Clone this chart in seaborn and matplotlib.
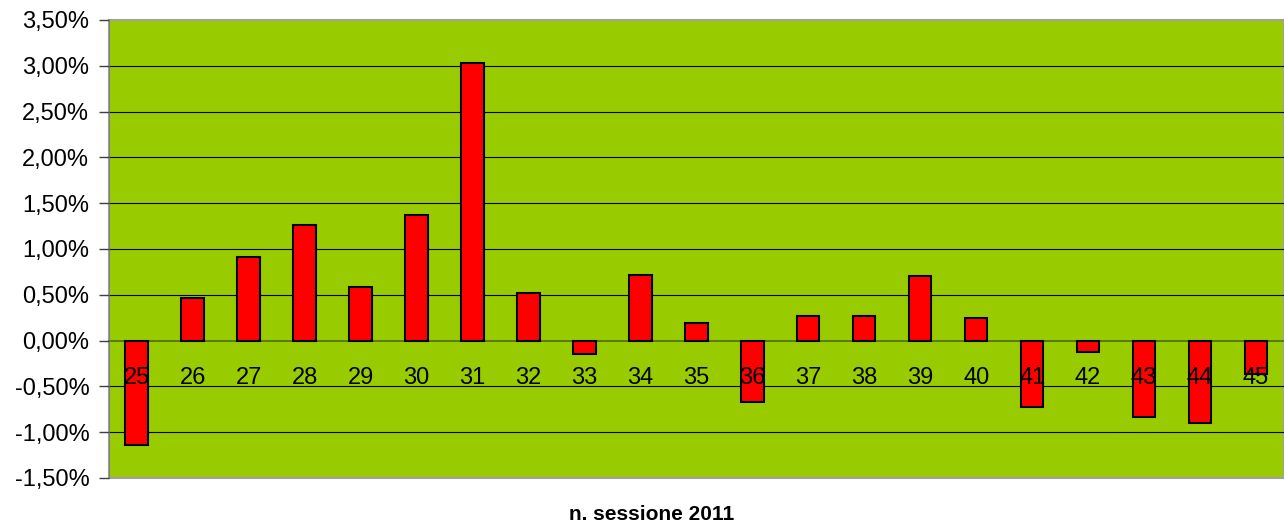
import matplotlib
matplotlib.use("Agg")
import matplotlib.pyplot as plt
import seaborn as sns
import pandas as pd
from matplotlib.ticker import FuncFormatter, MultipleLocator

sns.set_style("white")
plt.rcParams['font.family'] = ['Liberation Sans', 'DejaVu Sans']
plt.rcParams['text.color'] = 'black'

sessioni = ["25", "26", "27", "28", "29", "30", "31", "32", "33", "34", "35",
            "36", "37", "38", "39", "40", "41", "42", "43", "44", "45"]
variazione = [-1.14, 0.47, 0.91, 1.26, 0.58, 1.37, 3.03, 0.52, -0.15, 0.72, 0.19,
              -0.67, 0.27, 0.27, 0.71, 0.25, -0.73, -0.12, -0.83, -0.90, -0.37]

df = pd.DataFrame({"sessione": sessioni, "variazione": variazione})

fig = plt.figure(figsize=(12.84, 5.31), dpi=100)
ax = fig.add_axes([108.7 / 1284, 1 - 478 / 531, (1284 - 108.7) / 1284, (478 - 20) / 531])
ax.set_facecolor("#99CC00")

sns.barplot(data=df, x="sessione", y="variazione", order=sessioni, color="#FF0000",
            saturation=1, edgecolor="black", linewidth=1.5, width=0.4, ax=ax, zorder=1)

ax.set_ylim(-1.5, 3.5)
ax.set_xlim(-0.5, len(sessioni) - 0.5)
ax.yaxis.set_major_locator(MultipleLocator(0.5))
ax.yaxis.set_major_formatter(FuncFormatter(lambda v, p: f"{v:.2f}%".replace(".", ",")))

# griglia dietro le barre
for yv in ax.get_yticks():
    if -1.5 < yv < 3.5 and yv != 0:
        ax.axhline(yv, color="black", lw=0.8, zorder=0.5)

# etichette sopra le barre
ax.set_axisbelow(False)

# asse delle categorie sullo zero
ax.spines["bottom"].set_position(("data", 0))
ax.spines["bottom"].set_color("#4f6b10")
ax.spines["bottom"].set_linewidth(1.2)
ax.spines["bottom"].set_zorder(0.6)
ax.spines["left"].set_color("#808080")
ax.spines["top"].set_color("#a0a0a0")
ax.spines["right"].set_visible(False)
ax.patch.set_edgecolor("#a0a0a0")
ax.patch.set_linewidth(1.5)

ax.tick_params(axis="y", labelsize=17, length=7, color="#404040", width=1, pad=7,
               left=True, labelcolor="black")
ax.set_xticks(range(len(sessioni)))
ax.set_xticks([i + 0.5 for i in range(len(sessioni) - 1)], minor=True)
ax.tick_params(axis="x", which="major", length=0, labelsize=17, pad=19, labelcolor="black")
ax.tick_params(axis="x", which="minor", length=6, width=1, color="#4f6b10", direction="out")

ax.set_xlabel("")
ax.set_ylabel("")
fig.text(652 / 1284, 1 - 515 / 531, "n. sessione 2011", ha="center", va="center",
         fontsize=15, fontweight="bold", color="black")

fig.savefig("out.png", dpi=100)
